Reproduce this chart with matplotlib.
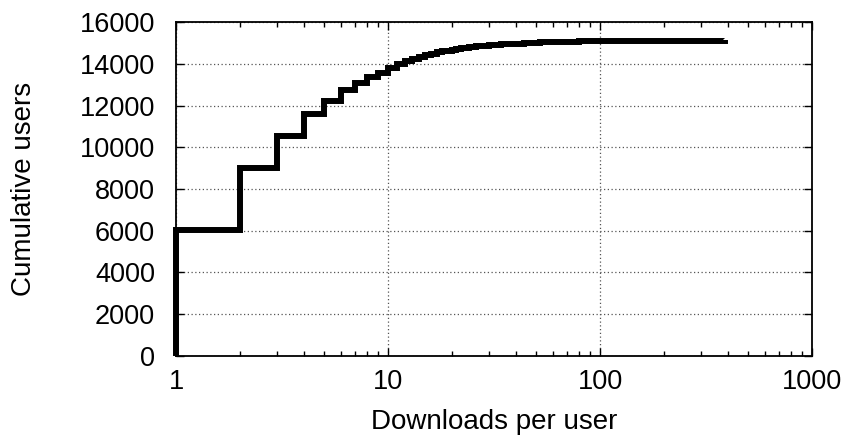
import matplotlib
matplotlib.use("Agg")
import matplotlib.pyplot as plt
from matplotlib.ticker import LogLocator, FixedLocator, NullFormatter, FixedFormatter
import numpy as np

# Cumulative number of users with at most N downloads
downloads = [1, 2, 3, 4, 5, 6, 7, 8, 9, 10, 11, 12, 13, 14, 15, 16, 17, 18, 19,
             20, 21, 22, 23, 24, 25, 26, 27, 28, 30, 32, 34, 36, 38, 40, 44, 48,
             52, 56, 60, 65, 70, 80, 90, 100, 120, 150, 200, 250, 300, 390]
cumulative_users = [6040, 9010, 10560, 11600, 12230, 12750, 13090, 13370, 13580,
                    13800, 13990, 14130, 14250, 14340, 14420, 14490, 14550, 14600,
                    14645, 14685, 14720, 14750, 14775, 14800, 14820, 14840, 14858,
                    14875, 14900, 14920, 14940, 14955, 14968, 14980, 15000, 15015,
                    15030, 15040, 15050, 15060, 15068, 15080, 15090, 15098, 15105,
                    15112, 15118, 15122, 15125, 15128]

x_ticks = [1, 10, 100, 1000]
x_tick_labels = ["1", "10", "100", "1000"]
y_ticks = list(range(0, 16001, 2000))

plt.rcParams["font.family"] = ["Liberation Sans", "DejaVu Sans"]

fig = plt.figure(figsize=(8.5, 4.43), dpi=100)
ax = fig.add_axes([0.2071, 0.1975, 0.7482, 0.7522])

xs = np.concatenate([[downloads[0]], downloads])
ys = np.concatenate([[0], cumulative_users])
ax.plot(xs, ys, drawstyle="steps-post", color="black", lw=4.3,
        solid_joinstyle="miter", solid_capstyle="butt", zorder=3, clip_on=False)

ax.set_xscale("log")
ax.set_xlim(1, 1000)
ax.set_ylim(0, 16000)

ax.xaxis.set_major_locator(FixedLocator(x_ticks))
ax.xaxis.set_major_formatter(FixedFormatter(x_tick_labels))
ax.xaxis.set_minor_locator(LogLocator(base=10, subs=np.arange(2, 10)))
ax.xaxis.set_minor_formatter(NullFormatter())
ax.set_yticks(y_ticks)
ax.set_yticklabels([str(v) for v in y_ticks])

ax.tick_params(which="both", direction="in", top=True, right=True,
               labelsize=19.5, color="black", width=1)
ax.tick_params(which="major", length=6)
ax.tick_params(which="minor", length=3.5)
ax.tick_params(axis="x", which="major", pad=10)
ax.tick_params(axis="y", which="major", pad=15)

ax.grid(True, which="major", linestyle=(0, (1, 2)), color="#555555", lw=0.9, zorder=0)

for sp in ax.spines.values():
    sp.set_linewidth(1.3)

ax.set_xlabel("Downloads per user", fontsize=20, labelpad=10)
ax.set_ylabel("Cumulative users", fontsize=20, labelpad=31)

fig.savefig("out.png", dpi=100)
